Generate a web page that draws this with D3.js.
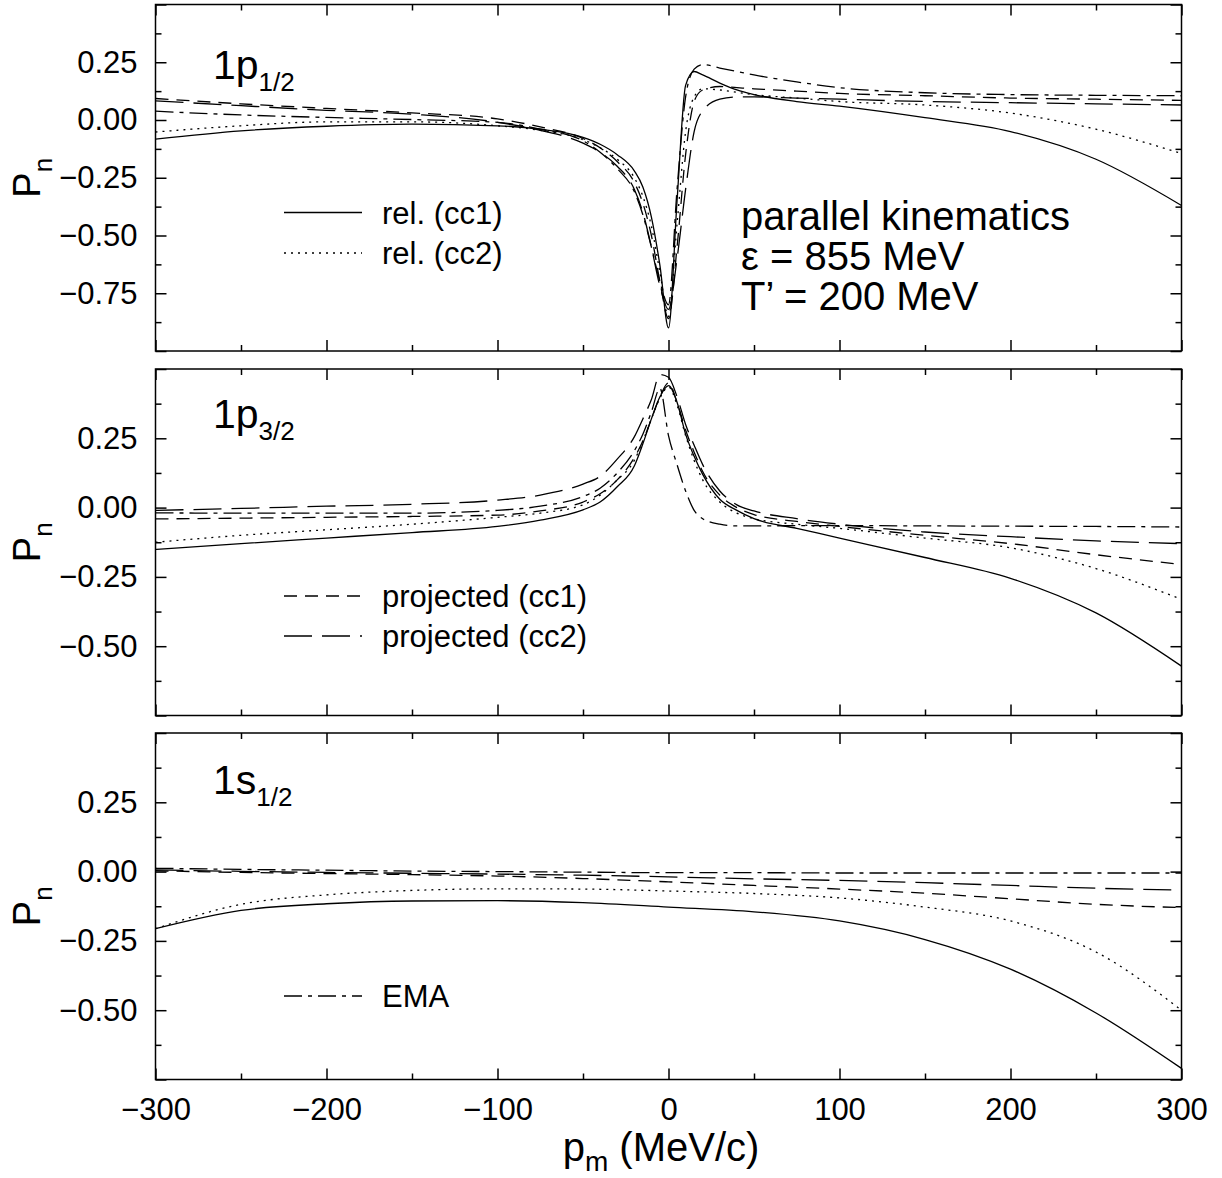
<!DOCTYPE html>
<html>
<head>
<meta charset="utf-8">
<script src="https://cdn.jsdelivr.net/npm/d3@7"></script>
<style>
  body { margin: 0; background: #fff; }
  svg { display: block; }
  text { font-family: "Liberation Sans", Arial, Helvetica, sans-serif; fill: #000; }
</style>
</head>
<body>
<svg id="chart" width="1222" height="1178"></svg>
<script>
// Missing momentum grid (MeV/c) for the p-shell panels
const pm = [-300, -250, -200, -150, -100, -75, -50, -40, -30, -20, -15, -10, -5, 0,
            5, 10, 15, 20, 30, 40, 50, 75, 100, 150, 200, 250, 300];
// Coarser grid for the s-shell panel
const pmS = [-300, -250, -200, -150, -100, -50, 0, 50, 100, 150, 200, 250, 300];

// 1p1/2 induced polarization
const relCC1_p12  = [-0.083, -0.047, -0.027, -0.018, -0.025, -0.040, -0.075, -0.105, -0.150, -0.220, -0.290, -0.420, -0.630, -0.900,
                     -0.350, 0.150, 0.210, 0.195, 0.160, 0.130, 0.110, 0.080, 0.060, 0.010, -0.050, -0.170, -0.370];
const relCC2_p12  = [-0.052, -0.025, -0.008, -0.008, -0.025, -0.045, -0.085, -0.120, -0.170, -0.250, -0.330, -0.460, -0.660, -0.850,
                     -0.450, -0.050, 0.100, 0.135, 0.130, 0.120, 0.110, 0.095, 0.080, 0.065, 0.030, -0.040, -0.145];
const projCC1_p12 = [0.093, 0.070, 0.050, 0.031, 0.005, -0.030, -0.080, -0.120, -0.180, -0.270, -0.360, -0.500, -0.700, -0.860,
                     -0.550, -0.150, 0.080, 0.130, 0.145, 0.140, 0.135, 0.125, 0.115, 0.105, 0.095, 0.090, 0.085];
const projCC2_p12 = [0.083, 0.062, 0.042, 0.025, -0.010, -0.045, -0.100, -0.140, -0.200, -0.300, -0.400, -0.550, -0.720, -0.820,
                     -0.600, -0.300, -0.050, 0.040, 0.090, 0.100, 0.100, 0.095, 0.090, 0.080, 0.075, 0.070, 0.065];
const ema_p12     = [0.038, 0.022, 0.011, 0.002, -0.010, -0.040, -0.090, -0.140, -0.210, -0.310, -0.410, -0.550, -0.700, -0.800,
                     -0.300, 0.100, 0.220, 0.240, 0.225, 0.210, 0.195, 0.165, 0.140, 0.118, 0.110, 0.107, 0.105];

// 1p3/2 induced polarization
const relCC1_p32  = [-0.151, -0.130, -0.110, -0.090, -0.068, -0.045, -0.008, 0.020, 0.075, 0.150, 0.230, 0.320, 0.400, 0.440,
                     0.380, 0.265, 0.185, 0.120, 0.030, -0.010, -0.040, -0.075, -0.110, -0.180, -0.255, -0.380, -0.572];
const relCC2_p32  = [-0.125, -0.100, -0.080, -0.060, -0.035, -0.020, 0.010, 0.045, 0.100, 0.170, 0.240, 0.320, 0.395, 0.435,
                     0.370, 0.260, 0.170, 0.100, 0.020, -0.020, -0.040, -0.060, -0.075, -0.110, -0.145, -0.220, -0.331];
const projCC1_p32 = [-0.041, -0.038, -0.035, -0.032, -0.027, -0.012, 0.020, 0.050, 0.100, 0.180, 0.240, 0.320, 0.400, 0.450,
                     0.380, 0.280, 0.200, 0.130, 0.045, 0.000, -0.025, -0.050, -0.068, -0.100, -0.130, -0.170, -0.205];
const projCC2_p32 = [-0.010, -0.003, 0.005, 0.012, 0.027, 0.045, 0.085, 0.113, 0.175, 0.255, 0.320, 0.390, 0.480, 0.470,
                     0.400, 0.300, 0.225, 0.155, 0.060, 0.010, -0.012, -0.040, -0.060, -0.088, -0.105, -0.120, -0.130];
const ema_p32     = [-0.019, -0.020, -0.020, -0.020, -0.010, 0.005, 0.040, 0.070, 0.125, 0.205, 0.265, 0.345, 0.430, 0.260,
                     0.155, 0.060, -0.010, -0.040, -0.060, -0.066, -0.066, -0.065, -0.065, -0.066, -0.067, -0.068, -0.070];

// 1s1/2 induced polarization
const relCC1_s12  = [-0.206, -0.140, -0.116, -0.106, -0.105, -0.112, -0.128, -0.145, -0.178, -0.245, -0.352, -0.510, -0.710];
const relCC2_s12  = [-0.206, -0.118, -0.084, -0.068, -0.062, -0.063, -0.070, -0.079, -0.095, -0.128, -0.178, -0.290, -0.500];
const projCC1_s12 = [0.003, -0.003, -0.007, -0.011, -0.016, -0.025, -0.037, -0.050, -0.063, -0.078, -0.098, -0.118, -0.130];
const projCC2_s12 = [0.006, 0.001, -0.003, -0.006, -0.009, -0.013, -0.019, -0.026, -0.032, -0.040, -0.050, -0.060, -0.067];
const ema_s12     = [0.012, 0.008, 0.005, 0.002, 0.000, -0.002, -0.004, -0.004, -0.005, -0.005, -0.005, -0.005, -0.005];

// Axis ticks
const xTicks = [-300, -200, -100, 0, 100, 200, 300];
const yLabelsTop = [-0.75, -0.50, -0.25, 0.00, 0.25];
const yLabelsLow = [-0.50, -0.25, 0.00, 0.25];

// Curve names and line styles
const seriesNames = ["rel. (cc1)", "rel. (cc2)", "projected (cc1)", "projected (cc2)", "EMA"];
const dashes = [null, "2,5", "13,8", "28,10", "18,6,4,6"];

const svg = d3.select("#chart");
const left = 155.5, right = 1181.5, ph = 346.5;
const x = d3.scaleLinear().domain([-300, 300]).range([left, right]);

const panels = [
  { top: 4.5,  domain: [-1.0, 0.5],  labels: yLabelsTop, grid: pm,
    series: [relCC1_p12, relCC2_p12, projCC1_p12, projCC2_p12, ema_p12],
    name: "1p", sub: "1/2", nameY: 79,
    legend: [{ s: 0, y: 212.5 }, { s: 1, y: 253 }] },
  { top: 369,  domain: [-0.75, 0.5], labels: yLabelsLow, grid: pm,
    series: [relCC1_p32, relCC2_p32, projCC1_p32, projCC2_p32, ema_p32],
    name: "1p", sub: "3/2", nameY: 428,
    legend: [{ s: 2, y: 596 }, { s: 3, y: 636 }] },
  { top: 733,  domain: [-0.75, 0.5], labels: yLabelsLow, grid: pmS,
    series: [relCC1_s12, relCC2_s12, projCC1_s12, projCC2_s12, ema_s12],
    name: "1s", sub: "1/2", nameY: 794,
    legend: [{ s: 4, y: 996 }] }
];

const fmtY = d3.format(".2f");
const fmtX = d3.format("d");

function styleAxis(g) {
  g.select(".domain").remove();
  g.selectAll(".tick line").attr("stroke", "#000").attr("stroke-width", 1.5);
  g.selectAll(".tick text").style("font-size", "31px").attr("fill", "#000");
}

panels.forEach((p, i) => {
  const y = d3.scaleLinear().domain(p.domain).range([p.top + ph, p.top]);
  const g = svg.append("g");

  const majors = d3.range(p.domain[0], p.domain[1] + 1e-9, 0.25);
  const minors = d3.range(p.domain[0] + 0.125, p.domain[1], 0.25);
  const xMinor = d3.range(-250, 300, 100);
  const isLabel = v => p.labels.some(l => Math.abs(l - v) < 1e-9);

  // left axis with labels
  g.append("g").attr("transform", `translate(${left},0)`)
    .call(d3.axisLeft(y).tickValues(majors).tickSize(-11).tickPadding(18)
      .tickFormat(v => isLabel(v) ? fmtY(v) : ""))
    .call(styleAxis);
  g.append("g").attr("transform", `translate(${left},0)`)
    .call(d3.axisLeft(y).tickValues(minors).tickSize(-6).tickFormat(""))
    .call(styleAxis);
  // right axis
  g.append("g").attr("transform", `translate(${right},0)`)
    .call(d3.axisRight(y).tickValues(majors).tickSize(-11).tickFormat(""))
    .call(styleAxis);
  g.append("g").attr("transform", `translate(${right},0)`)
    .call(d3.axisRight(y).tickValues(minors).tickSize(-6).tickFormat(""))
    .call(styleAxis);
  // top axis
  g.append("g").attr("transform", `translate(0,${p.top})`)
    .call(d3.axisTop(x).tickValues(xTicks).tickSize(-11).tickFormat(""))
    .call(styleAxis);
  g.append("g").attr("transform", `translate(0,${p.top})`)
    .call(d3.axisTop(x).tickValues(xMinor).tickSize(-6).tickFormat(""))
    .call(styleAxis);
  // bottom axis, labelled only on the last panel
  const last = i === panels.length - 1;
  g.append("g").attr("transform", `translate(0,${p.top + ph})`)
    .call(d3.axisBottom(x).tickValues(xTicks).tickSize(-11).tickPadding(18)
      .tickFormat(v => last ? fmtX(v) : ""))
    .call(styleAxis);
  g.append("g").attr("transform", `translate(0,${p.top + ph})`)
    .call(d3.axisBottom(x).tickValues(xMinor).tickSize(-6).tickFormat(""))
    .call(styleAxis);

  // frame
  g.append("rect").attr("x", left).attr("y", p.top)
    .attr("width", right - left).attr("height", ph)
    .attr("fill", "none").attr("stroke", "#000").attr("stroke-width", 1.5);

  // curves
  const clipId = "clip" + i;
  svg.append("clipPath").attr("id", clipId).append("rect")
    .attr("x", left).attr("y", p.top).attr("width", right - left).attr("height", ph);
  const line = d3.line().x(d => x(d[0])).y(d => y(d[1])).curve(d3.curveMonotoneX);
  const cg = g.append("g").attr("clip-path", `url(#${clipId})`);
  p.series.forEach((vals, k) => {
    cg.append("path")
      .datum(p.grid.map((pv, j) => [pv, vals[j]]))
      .attr("d", line)
      .attr("fill", "none").attr("stroke", "#000").attr("stroke-width", 1.3)
      .attr("stroke-dasharray", dashes[k]);
  });

  // shell label
  const lab = g.append("text").attr("x", 213).attr("y", p.nameY).style("font-size", "41px");
  lab.append("tspan").text(p.name);
  lab.append("tspan").attr("dy", 12).style("font-size", "26px").text(p.sub);

  // y title
  const cy = p.top + ph / 2;
  const yt = g.append("text")
    .attr("transform", `translate(40,${cy}) rotate(-90)`)
    .attr("text-anchor", "middle").style("font-size", "38px");
  yt.append("tspan").text("P");
  yt.append("tspan").attr("dy", 12).style("font-size", "26px").text("n");

  // legend entries
  p.legend.forEach(e => {
    g.append("line").attr("x1", 284).attr("x2", 362).attr("y1", e.y).attr("y2", e.y)
      .attr("stroke", "#000").attr("stroke-width", 1.3)
      .attr("stroke-dasharray", dashes[e.s]);
    g.append("text").attr("x", 382).attr("y", e.y + 11)
      .style("font-size", "31px").text(seriesNames[e.s]);
  });
});

// kinematics annotation
const notes = ["parallel kinematics", "\u03b5 = 855 MeV", "T\u2019 = 200 MeV"];
svg.append("g").selectAll("text").data(notes).join("text")
  .attr("x", 741).attr("y", (d, i) => 230 + i * 40)
  .style("font-size", "40px").text(d => d);

// x title
const xt = svg.append("text").attr("x", 661).attr("y", 1161)
  .attr("text-anchor", "middle").style("font-size", "40px");
xt.append("tspan").text("p");
xt.append("tspan").attr("dy", 10).style("font-size", "28px").text("m");
xt.append("tspan").attr("dy", -10).text(" (MeV/c)");
</script>
</body>
</html>
